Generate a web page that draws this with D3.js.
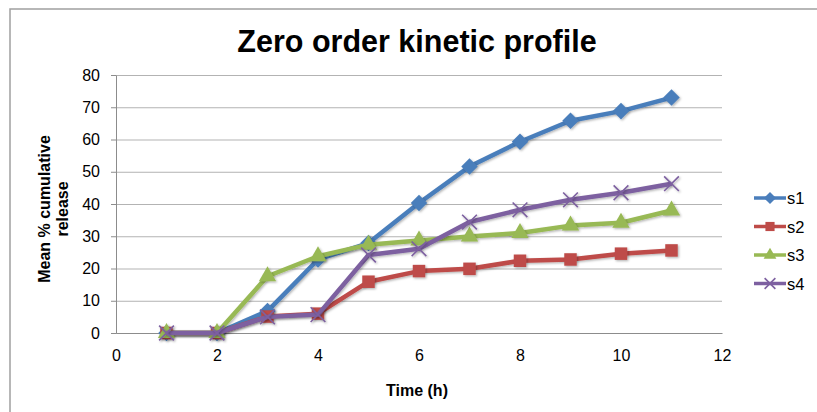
<!DOCTYPE html>
<html>
<head>
<meta charset="utf-8">
<script src="https://cdn.jsdelivr.net/npm/d3@7"></script>
<style>
  body { margin: 0; background: #fff; }
  svg { font-family: "Liberation Sans", Arial, sans-serif; display: block; }
  .grid line { stroke: #b3b3b3; }
  .axis text { font-size: 16px; fill: #000; }
</style>
</head>
<body>
<div id="chart"></div>
<script>
// data
var hours = [1, 2, 3, 4, 5, 6, 7, 8, 9, 10, 11];
var s1 = [0, 0, 6.8, 22.8, 27.9, 40.3, 51.6, 59.3, 65.8, 68.8, 73.0];
var s2 = [0, 0, 5.1, 6.0, 15.9, 19.2, 19.9, 22.4, 22.8, 24.6, 25.6];
var s3 = [0, 0, 17.6, 23.8, 27.4, 28.7, 29.9, 31.0, 33.3, 34.2, 38.0];
var s4 = [0, 0, 5.0, 5.7, 24.2, 26.1, 34.4, 38.2, 41.3, 43.5, 46.3];
var xTicks = [0, 2, 4, 6, 8, 10, 12];
var yTicks = [0, 10, 20, 30, 40, 50, 60, 70, 80];

var series = [
  {name: "s1", values: s1, color: "#4a7ebb", marker: "diamond"},
  {name: "s2", values: s2, color: "#be4b48", marker: "square"},
  {name: "s3", values: s3, color: "#98b954", marker: "triangle"},
  {name: "s4", values: s4, color: "#7d60a0", marker: "cross"}
];

var W = 817, H = 412;
var margin = {left: 116, right: 95, top: 75, bottom: 79};
var width = W - margin.left - margin.right;
var height = H - margin.top - margin.bottom;

var svg = d3.select("#chart").append("svg")
  .attr("width", W)
  .attr("height", H);

// soft shadow like the office chart markers
var defs = svg.append("defs");
var f = defs.append("filter").attr("id", "shadow")
  .attr("x", "-50%").attr("y", "-50%").attr("width", "200%").attr("height", "200%");
f.append("feDropShadow").attr("dx", 1.2).attr("dy", 1.2)
  .attr("stdDeviation", 1).attr("flood-color", "#000").attr("flood-opacity", 0.3);

// outer chart border (runs off the right and bottom)
svg.append("rect")
  .attr("x", 10).attr("y", 9)
  .attr("width", W + 10).attr("height", H + 10)
  .attr("fill", "none").attr("stroke", "#a0a0a0").attr("stroke-width", 1.5);

// title
svg.append("text")
  .attr("x", 417).attr("y", 52)
  .attr("text-anchor", "middle")
  .style("font-size", "30.5px").style("font-weight", "bold")
  .text("Zero order kinetic profile");

var x = d3.scaleLinear().domain([0, 12]).range([0, width]);
var y = d3.scaleLinear().domain([0, 80]).range([height, 0]);

var g = svg.append("g")
  .attr("transform", "translate(" + margin.left + "," + margin.top + ")");

// gridlines
g.append("g")
  .attr("class", "grid")
  .call(d3.axisLeft(y).tickValues(yTicks).tickSize(-width).tickFormat(""))
  .call(function(s){ s.select(".domain").remove(); });

// y axis
var ya = g.append("g")
  .attr("class", "axis")
  .call(d3.axisLeft(y).tickValues(yTicks).tickSizeInner(5).tickSizeOuter(0).tickPadding(11));
ya.select(".domain").attr("stroke", "#8c8c8c");
ya.selectAll(".tick line").attr("stroke", "#8c8c8c");

// x axis
var xa = g.append("g")
  .attr("class", "axis")
  .attr("transform", "translate(0," + height + ")")
  .call(d3.axisBottom(x).tickValues(xTicks).tickSize(0).tickPadding(17));
xa.select(".domain").attr("stroke", "#8c8c8c");

// axis titles
svg.append("text")
  .attr("transform", "translate(50," + (margin.top + height / 2 + 5) + ") rotate(-90)")
  .attr("text-anchor", "middle")
  .style("font-size", "16px").style("font-weight", "bold")
  .text("Mean % cumulative");
svg.append("text")
  .attr("transform", "translate(68," + (margin.top + height / 2 + 5) + ") rotate(-90)")
  .attr("text-anchor", "middle")
  .style("font-size", "16px").style("font-weight", "bold")
  .text("release");

svg.append("text")
  .attr("x", margin.left + width / 2 - 2).attr("y", 396)
  .attr("text-anchor", "middle")
  .style("font-size", "16px").style("font-weight", "bold")
  .text("Time (h)");

function drawMarker(sel, type, color, size) {
  if (type === "diamond") {
    sel.append("path")
      .attr("d", d3.symbol().type(d3.symbolSquare).size(size * 1.05)())
      .attr("transform", "rotate(45)")
      .attr("fill", color);
  } else if (type === "square") {
    sel.append("path")
      .attr("d", d3.symbol().type(d3.symbolSquare).size(size * 1.2)())
      .attr("fill", color);
  } else if (type === "triangle") {
    sel.append("path")
      .attr("d", d3.symbol().type(d3.symbolTriangle).size(size * 1.0)())
      .attr("fill", color);
  } else {
    sel.append("path")
      .attr("d", d3.symbol().type(d3.symbolX).size(size * 1.1)())
      .attr("fill", "none")
      .attr("stroke", color).attr("stroke-width", 1.6);
  }
}

var line = d3.line()
  .x(function(d, i){ return x(hours[i]); })
  .y(function(d){ return y(d); });

series.forEach(function(s) {
  g.append("path")
    .datum(s.values)
    .attr("fill", "none")
    .attr("stroke", s.color)
    .attr("stroke-width", 4.5)
    .attr("stroke-linejoin", "round")
    .attr("filter", "url(#shadow)")
    .attr("d", line);

  var pts = g.selectAll(".pt-" + s.name)
    .data(s.values)
    .enter().append("g")
    .attr("class", "pt-" + s.name)
    .attr("filter", "url(#shadow)")
    .attr("transform", function(d, i){ return "translate(" + x(hours[i]) + "," + y(d) + ")"; });
  drawMarker(pts, s.marker, s.color, 130);
});

// legend
var legend = svg.append("g").attr("transform", "translate(754,198)");
series.forEach(function(s, i) {
  var row = legend.append("g").attr("transform", "translate(0," + (i * 28.5) + ")");
  row.append("line")
    .attr("x1", 0).attr("x2", 32)
    .attr("stroke", s.color).attr("stroke-width", 3.5);
  var m = row.append("g").attr("transform", "translate(16,0)");
  drawMarker(m, s.marker, s.color, 70);
  row.append("text")
    .attr("x", 33).attr("y", 6)
    .style("font-size", "16.5px")
    .text(s.name);
});
</script>
</body>
</html>
